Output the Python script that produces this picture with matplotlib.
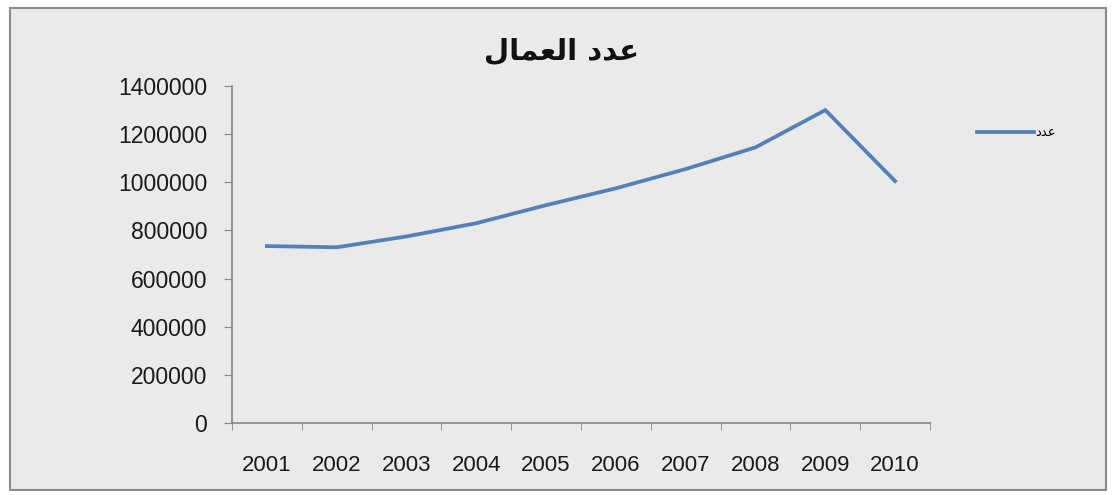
import matplotlib.pyplot as plt
from matplotlib.patches import Rectangle

# بيانات عدد العمال
years = ['2001', '2002', '2003', '2004', '2005', '2006', '2007', '2008', '2009', '2010']
workers = [735000, 730000, 775000, 830000, 905000, 975000, 1055000, 1145000, 1300000, 1005000]
y_ticks = [0, 200000, 400000, 600000, 800000, 1000000, 1200000, 1400000]

# Arabic in presentation forms, visual (left-to-right) order, since matplotlib does no shaping
title_text = '\uFEDD\uFE8E\uFEE4\uFECC\uFEDF\uFE8D \uFEA9\uFEAA\uFECB'   # عدد العمال
legend_text = '\uFEA9\uFEAA\uFECB'   # عدد

fig = plt.figure(figsize=(11.14, 4.95), dpi=100)
fig.patch.set_facecolor('white')

# chart area frame, kept behind the axes
fig.patches.append(Rectangle((10 / 1114, 1 - 490 / 495), 1096 / 1114, 482 / 495,
                             transform=fig.transFigure, facecolor='#eaeaea',
                             edgecolor='#8c8c8c', linewidth=1.5, zorder=-5))

ax = fig.add_axes([232 / 1114, 1 - 423 / 495, 698 / 1114, 337 / 495])
ax.patch.set_alpha(0)

x = list(range(len(years)))
ax.plot(x, workers, color='#4f81bd', linewidth=2.7, solid_joinstyle='miter',
        label=legend_text)

ax.set_xlim(-0.5, len(years) - 0.5)
ax.set_ylim(0, 1400000)
ax.set_yticks(y_ticks)
ax.set_yticklabels([str(v) for v in y_ticks])
ax.set_xticks(x)
ax.set_xticklabels(years)
ax.set_xticks([i + 0.5 for i in range(-1, len(years))], minor=True)

for s in ['top', 'right']:
    ax.spines[s].set_visible(False)
for s in ['left', 'bottom']:
    ax.spines[s].set_color('#868686')
    ax.spines[s].set_linewidth(1.2)

ax.tick_params(axis='x', which='major', length=0, pad=23, labelsize=16,
               labelcolor='#1a1a1a')
ax.tick_params(axis='x', which='minor', length=5, color='#868686', direction='out')
ax.tick_params(axis='y', length=6, color='#868686', direction='out', pad=12,
               labelsize=16.5, labelcolor='#1a1a1a')
for lbl in ax.get_xticklabels() + ax.get_yticklabels():
    lbl.set_fontfamily('Liberation Sans')

fig.text(562 / 1114, 1 - 52 / 495, title_text, ha='center', va='center',
         fontsize=21, fontweight='bold', family='DejaVu Sans', color='#111111')

ax.legend(loc='center left', bbox_to_anchor=(965 / 1114, 1 - 133 / 495),
          bbox_transform=fig.transFigure, frameon=False, fontsize=9.5,
          handlelength=4.3, handletextpad=0.1)

fig.savefig('out.png', dpi=100)
